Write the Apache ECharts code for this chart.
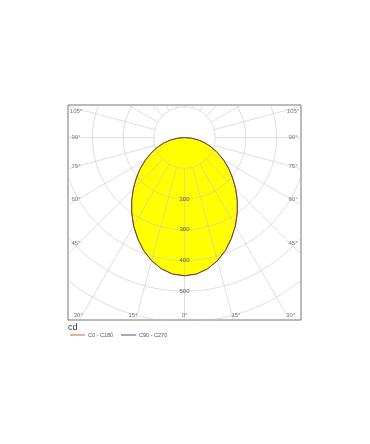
<!DOCTYPE html>
<html><head><meta charset="utf-8">
<script src="https://cdn.jsdelivr.net/npm/echarts/dist/echarts.min.js"></script>
<style>html,body{margin:0;padding:0;background:#fff}#c{width:370px;height:444px}</style>
</head><body><div id="c"></div>
<script>
// gamma angles (deg, 0 = straight down)
const angles = [-90,-85,-80,-75,-70,-65,-60,-55,-50,-45,-40,-35,-30,-25,-20,-15,-10,-5,0,5,10,15,20,25,30,35,40,45,50,55,60,65,70,75,80,85,90];
// luminous intensity, cd
const c0c180 = [0,23,47,71,95,121,148,176,205,236,268,300,332,362,391,415,434,446,450,446,434,415,391,362,332,300,268,236,205,176,148,121,95,71,47,23,0];
const c90c270 = [0,23,47,71,95,121,148,176,205,236,268,300,332,362,391,415,434,446,450,446,434,415,391,362,332,300,268,236,205,176,148,121,95,71,47,23,0];
const ringValues = [100,200,300,400,500,600,700];
const ringLabels = [200,300,400,500];
const spokeAngles = [-180,-165,-150,-135,-120,-105,-90,-75,-60,-45,-30,-15,0,15,30,45,60,75,90,105,120,135,150,165,180];
const bottomTickAngles = [-30,-15,0,15,30];
const sideTickAngles = [45,60,75,90,105];

const X_MIN=-380, X_MAX=380, Y_MIN=-594, Y_MAX=106;
const rad = d => d*Math.PI/180;
const toXY = (ang, r) => [r*Math.sin(rad(ang)), -r*Math.cos(rad(ang))];

const gridColor = 'rgba(195,195,205,0.55)';
const txt = {fontSize:6, color:'#555', fontFamily:'Liberation Sans'};
const series = [];

// fill
const fillPts = angles.map((a,i)=>toXY(a,c0c180[i]));
series.push({
  type:'custom', coordinateSystem:'cartesian2d', silent:true, z:1, clip:true,
  data:[[0,0]],
  renderItem:(params, api)=>({type:'polygon', shape:{points:fillPts.map(p=>api.coord(p))}, style:{fill:'#ffff00'}})
});
// rings
ringValues.forEach(r=>{
  const d=[]; for(let t=0;t<=360;t+=2) d.push(toXY(t,r));
  series.push({type:'line', data:d, showSymbol:false, silent:true, z:2, clip:true,
    lineStyle:{color:gridColor, width:1}});
});
// spokes
spokeAngles.forEach(a=>{
  series.push({type:'line', data:[toXY(a,ringValues[0]), toXY(a,1000)], showSymbol:false, silent:true, z:2, clip:true,
    lineStyle:{color:gridColor, width:1}});
});
// curves
series.push({name:'C0 - C180', type:'line', data:angles.map((a,i)=>toXY(a,c0c180[i])), showSymbol:false, z:3, clip:true,
  color:'#e0602a', lineStyle:{color:'#b0502a', width:1}});
series.push({name:'C90 - C270', type:'line', data:angles.map((a,i)=>toXY(a,c90c270[i])), showSymbol:false, z:4, clip:true,
  color:'#4a4a9a', lineStyle:{color:'#4a3a50', width:1, opacity:0.7}});
// ring labels
series.push({type:'scatter', symbolSize:0, silent:true, z:6, data:ringLabels.map(v=>[0,-v,String(v)]),
  label:Object.assign({show:true, position:'inside', formatter:p=>p.value[2]}, txt, {color:'#333'})});
// bottom angle labels
const px = (X_MAX-X_MIN)/233;
const yB = Y_MIN + 5*px;
series.push({type:'scatter', symbolSize:0, silent:true, z:6,
  data:bottomTickAngles.map(a=>({value:[(-yB)*Math.tan(rad(a)), yB, Math.abs(a)+'°'],
    label:{offset:[a<0?-4:(a>0?4:0),0]}})),
  label:Object.assign({show:true, position:'inside', formatter:p=>p.value[2]}, txt)
});
// side angle labels
const xS = X_MAX - 8*px;
const sideShift = {45:-3, 60:-1, 75:0, 90:0, 105:3};
const sideData=[];
sideTickAngles.forEach(a=>{
  let y = -xS/Math.tan(rad(a));
  if(Math.abs(y)<1e-6) y=0;
  const lab = {offset:[0, sideShift[a]]};
  sideData.push({value:[-xS, y, a+'°'], label:lab});
  sideData.push({value:[xS, y, a+'°'], label:lab});
});
series.push({type:'scatter', symbolSize:0, silent:true, z:6, data:sideData,
  label:Object.assign({show:true, position:'inside', formatter:p=>p.value[2]}, txt)});

const chart = echarts.init(document.getElementById('c'), null, {renderer:'canvas'});
chart.setOption({
  animation:false,
  backgroundColor:'#fff',
  title:{text:'cd', left:68, top:323, padding:0, textStyle:{fontSize:9, fontWeight:'normal', color:'#333', fontFamily:'Liberation Sans'}},
  legend:{left:70, top:332, padding:0, itemWidth:15, itemHeight:1, icon:'rect', itemGap:8, data:['C0 - C180','C90 - C270'],
    textStyle:{fontSize:5.5, color:'#555', fontFamily:'Liberation Sans', padding:[0,0,0,-2]}},
  grid:{left:68, top:105, width:233, height:215, show:true, borderColor:'#777', borderWidth:1, backgroundColor:'transparent'},
  xAxis:{type:'value', min:X_MIN, max:X_MAX, show:false},
  yAxis:{type:'value', min:Y_MIN, max:Y_MAX, show:false},
  series
});
</script></body></html>
